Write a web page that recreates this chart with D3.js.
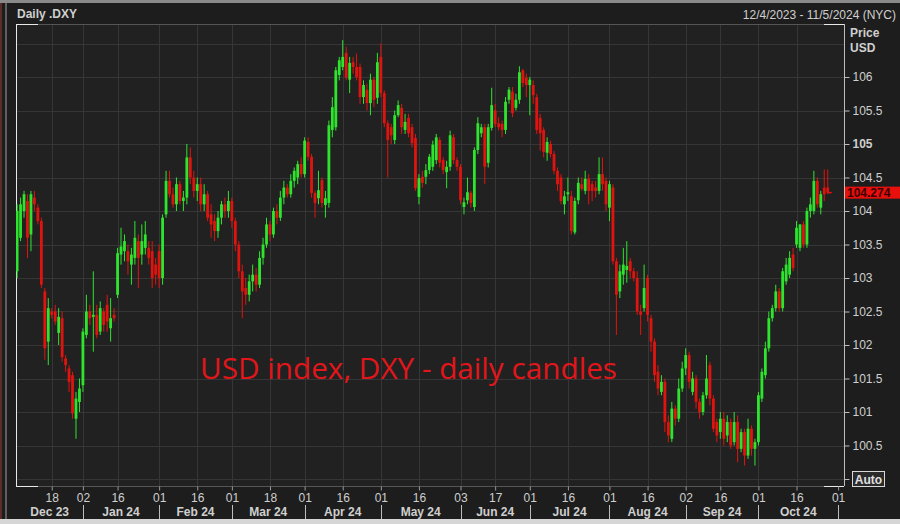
<!DOCTYPE html>
<html><head><meta charset="utf-8">
<script src="https://cdn.jsdelivr.net/npm/d3@7"></script>
<style>body{margin:0;background:#1d1d1d;overflow:hidden} svg{display:block}</style>
</head><body><svg id="c" width="900" height="524"></svg>
<script>
// ---- DATA ----
const title = "Daily .DXY";
const rangeText = "12/4/2023 - 11/5/2024 (NYC)";
const chartNote = "USD index, DXY - daily candles";
const lastPriceLabel = "104.274";
// daily candles [open, high, low, close], trading-day index 0 = 4 Dec 2023
const ohlc = [
[103.10,104.10,103.00,104.00],[103.60,104.20,103.55,104.10],[104.00,104.30,103.90,104.25],[104.15,104.25,103.30,103.60],
[103.65,104.30,103.40,104.25],[104.20,104.30,104.00,104.10],[104.05,104.10,103.80,103.85],[103.85,103.90,102.85,102.90],
[102.80,102.85,101.78,101.95],[102.05,102.70,101.70,102.55],[102.50,102.55,102.40,102.45],[102.50,102.60,102.30,102.35],
[102.18,102.55,102.00,102.42],[102.40,102.50,101.75,101.82],[101.80,101.85,101.60,101.70],[101.65,101.70,101.30,101.45],
[101.55,101.60,100.90,100.98],[100.90,101.30,100.60,101.20],[101.15,101.50,101.00,101.35],[101.40,102.25,101.30,102.20],
[102.15,102.75,102.10,102.50],[102.50,102.60,102.30,102.40],[102.42,103.10,101.90,102.45],[102.45,102.60,102.10,102.15],
[102.20,102.65,102.15,102.55],[102.50,102.55,102.20,102.30],[102.60,102.75,102.20,102.35],[102.25,102.70,102.05,102.40],
[102.45,102.55,102.35,102.40],[102.75,103.45,102.70,103.37],[103.35,103.75,103.20,103.47],[103.40,103.65,103.25,103.55],
[103.40,103.50,103.05,103.25],[103.20,103.45,102.90,103.35],[103.30,103.85,103.20,103.60],[103.55,103.65,102.85,103.30],
[103.35,103.80,103.20,103.55],[103.45,103.85,103.35,103.65],[103.45,103.55,103.20,103.30],[103.40,103.55,102.85,103.00],
[103.20,103.30,102.90,103.05],[103.40,103.50,102.85,103.00],[103.00,103.95,102.90,103.90],[103.95,104.60,103.90,104.45],
[104.45,104.60,104.20,104.25],[104.25,104.35,104.05,104.10],[104.10,104.50,104.00,104.40],[104.40,104.45,104.10,104.15],
[104.15,104.30,104.00,104.20],[104.20,105.00,104.10,104.80],[104.80,104.95,104.40,104.50],[104.50,104.60,104.20,104.30],
[104.30,104.50,104.15,104.40],[104.40,104.50,104.00,104.10],[104.10,104.40,104.00,104.25],[104.25,104.30,103.85,103.90],
[103.95,104.10,103.60,103.80],[103.85,103.95,103.55,103.70],[103.70,104.00,103.60,103.90],[103.90,104.15,103.80,104.10],
[104.10,104.20,103.90,104.00],[104.00,104.30,103.90,104.15],[104.15,104.20,103.75,103.85],[103.85,103.90,103.40,103.50],
[103.50,103.55,103.00,103.10],[103.10,103.20,102.40,102.80],[102.85,103.00,102.60,102.75],[102.75,103.05,102.65,102.95],
[102.95,103.20,102.80,103.05],[103.05,103.15,102.80,102.90],[102.90,103.40,102.85,103.30],[103.30,103.60,103.20,103.50],
[103.50,103.90,103.45,103.80],[103.80,103.85,103.55,103.65],[103.65,104.05,103.60,104.00],[104.00,104.10,103.80,103.90],
[103.90,104.30,103.85,104.20],[104.20,104.45,104.10,104.35],[104.35,104.40,104.20,104.25],[104.25,104.55,104.20,104.45],
[104.45,104.65,104.35,104.60],[104.50,104.75,104.40,104.70],[104.70,104.80,104.50,104.55],[104.55,105.10,104.50,105.05],
[105.03,105.10,104.75,104.81],[104.81,104.85,104.20,104.27],[104.27,104.30,103.90,104.12],[104.19,104.60,104.10,104.31],
[104.46,104.50,104.05,104.12],[104.09,104.30,103.90,104.19],[104.12,105.35,104.05,105.28],[105.21,105.70,105.10,105.55],
[105.25,106.15,105.20,106.10],[106.03,106.30,105.95,106.25],[106.15,106.55,106.10,106.30],[106.36,106.45,105.95,105.99],
[105.96,106.30,105.76,106.21],[106.22,106.30,106.05,106.15],[106.15,106.35,105.95,106.00],[106.15,106.20,105.60,105.70],
[105.70,105.95,105.60,105.88],[105.81,105.90,105.50,105.61],[105.61,106.05,105.43,105.96],[105.96,106.00,105.55,105.66],
[105.69,106.36,105.60,106.22],[106.30,106.50,105.70,105.76],[105.76,105.80,105.25,105.31],[105.31,105.35,104.50,105.06],
[105.25,105.30,105.00,105.13],[105.06,105.50,105.00,105.43],[105.43,105.65,105.40,105.58],[105.54,105.60,105.15,105.25],
[105.21,105.45,105.15,105.33],[105.39,105.45,105.10,105.16],[105.25,105.30,104.95,105.01],[105.09,105.15,104.30,104.34],
[104.21,104.55,104.10,104.49],[104.51,104.60,104.35,104.42],[104.51,104.70,104.40,104.61],[104.61,104.85,104.55,104.81],
[104.66,105.05,104.60,104.99],[104.76,105.15,104.70,105.10],[105.06,105.10,104.65,104.72],[104.76,104.80,104.55,104.61],
[104.58,104.75,104.34,104.66],[104.66,105.20,104.60,105.13],[105.10,105.15,104.70,104.76],[104.76,104.80,104.60,104.66],
[104.66,104.70,104.10,104.16],[104.06,104.20,103.95,104.13],[104.16,104.50,104.10,104.28],[104.27,104.30,104.05,104.12],
[104.06,104.95,104.00,104.91],[104.91,105.40,104.85,105.31],[105.16,105.30,105.10,105.25],[105.25,105.30,104.40,104.66],
[104.72,105.30,104.65,105.25],[105.24,105.84,105.20,105.58],[105.50,105.60,105.25,105.30],[105.31,105.40,105.20,105.25],
[105.30,105.35,105.10,105.21],[105.21,105.70,105.15,105.63],[105.66,105.85,105.60,105.81],[105.78,105.85,105.40,105.46],
[105.54,105.75,105.50,105.66],[105.66,106.16,105.60,106.07],[106.10,106.12,105.85,105.91],[105.99,106.05,105.70,105.88],
[105.88,106.00,105.43,105.96],[105.88,105.95,105.60,105.73],[105.70,105.75,105.15,105.21],[105.39,105.45,104.90,105.16],
[105.21,105.25,104.80,104.88],[104.87,105.10,104.75,105.03],[105.00,105.05,104.80,104.85],[104.85,104.90,104.55,104.60],
[104.60,104.65,104.30,104.40],[104.50,104.55,104.10,104.15],[104.10,104.30,103.95,104.22],[104.25,104.50,104.15,104.28],
[104.22,104.30,103.65,103.70],[103.68,104.20,103.65,104.15],[104.16,104.50,104.10,104.42],[104.40,104.50,104.30,104.33],
[104.30,104.60,104.25,104.48],[104.48,104.55,104.10,104.30],[104.40,104.45,104.15,104.30],[104.35,104.45,104.20,104.30],
[104.30,104.80,104.25,104.55],[104.55,104.80,104.30,104.40],[104.45,104.50,104.00,104.10],[104.05,104.45,103.85,104.40],
[104.35,104.40,103.20,103.25],[103.25,103.30,102.15,102.75],[102.80,103.20,102.70,103.10],[103.05,103.45,102.90,103.20],
[103.12,103.55,102.93,103.18],[103.25,103.30,103.00,103.10],[103.10,103.15,102.95,103.00],[103.00,103.10,102.45,102.50],
[102.50,102.60,102.15,102.45],[102.55,103.20,102.50,102.85],[103.00,103.05,102.35,102.45],[102.40,102.45,101.90,102.05],
[102.05,102.10,101.45,101.55],[101.60,101.70,101.25,101.35],[101.30,101.55,101.25,101.45],[101.45,101.50,100.70,100.85],
[100.85,100.95,100.55,100.65],[100.60,101.15,100.55,101.05],[101.05,101.10,100.80,100.90],[100.90,101.50,100.85,101.35],
[101.35,101.75,101.30,101.65],[101.65,101.95,101.55,101.85],[101.85,101.90,101.35,101.45],[101.30,101.60,101.25,101.50],
[101.50,101.55,101.05,101.15],[101.15,101.20,100.90,101.00],[101.00,101.30,100.95,101.25],[101.25,101.85,101.20,101.50],
[101.70,101.75,101.10,101.20],[101.20,101.25,100.70,100.75],[100.85,100.90,100.55,100.65],[100.70,101.00,100.60,100.90],
[100.90,101.00,100.50,100.60],[100.65,100.95,100.55,100.85],[100.85,100.90,100.45,100.50],[100.55,101.00,100.50,100.85],
[100.85,100.95,100.25,100.45],[100.45,100.75,100.40,100.70],[100.70,100.75,100.20,100.35],[100.35,100.90,100.30,100.75],
[100.75,100.80,100.35,100.45],[100.45,100.60,100.20,100.55],[100.55,101.30,100.50,101.25],[101.20,101.65,101.15,101.60],
[101.55,102.05,101.50,101.95],[101.95,102.50,101.90,102.40],[102.40,102.60,102.35,102.55],[102.55,102.90,102.50,102.80],
[102.80,102.85,102.50,102.55],[102.55,103.15,102.50,103.10],[102.95,103.30,102.90,103.20],[103.05,103.40,103.00,103.30],
[103.35,103.45,103.10,103.15],[103.50,103.85,103.45,103.75],[103.45,103.80,103.40,103.80],[103.80,103.85,103.45,103.50],
[103.50,104.05,103.45,104.00],[104.00,104.20,103.90,104.10],[104.00,104.60,103.95,104.45],[104.45,104.50,104.05,104.10],
[104.05,104.30,103.95,104.25],[104.35,104.62,104.15,104.25],[104.35,104.62,104.25,104.274]
];
const priceTicks = [100,100.5,101,101.5,102,102.5,103,103.5,104,104.5,105,105.5,106];
const boldPrice = [105];
const tickIndex = [10,19,29,41,52,62,73,83,94,105,116,128,138,148,159,171,182,193,203,214,225,237];
const tickLabels = ["18","02","16","01","16","01","18","01","16","01","16","03","17","01","16","01","16","02","16","01","16","01"];
const monthStart = [-0.2,19,41,62,83,105,128,148,171,193,214,237];
const monthLabels = ["Dec 23","Jan 24","Feb 24","Mar 24","Apr 24","May 24","Jun 24","Jul 24","Aug 24","Sep 24","Oct 24"];

// ---- LAYOUT ----
const svg = d3.select("#c");
const L = 16, R = 844, T = 24, B = 486;
const x = d3.scaleLinear().domain([0, 237]).range([17.1, 838.1]);
const y = d3.scaleLinear().domain([100, 106]).range([479, 77]);
const UP = "#2ee52e", DN = "#e0140f", TXT = "#cfcfcf";
const FONT = "'Liberation Sans', Arial, sans-serif";

svg.append("rect").attr("width",900).attr("height",524).attr("fill","#1d1d1d");
svg.append("rect").attr("x",0).attr("y",0).attr("width",900).attr("height",3).attr("fill","#8a8a8a");
svg.append("rect").attr("x",0).attr("y",3).attr("width",2).attr("height",516).attr("fill","#5a2c2a");
svg.append("rect").attr("x",5).attr("y",3).attr("width",2).attr("height",516).attr("fill","#5e5e5e");
svg.append("rect").attr("x",L).attr("y",T).attr("width",R-L).attr("height",B-T).attr("fill","#212121");

// grid
const g = svg.append("g").attr("shape-rendering","crispEdges");
g.selectAll("line.h").data(d3.range(100,107,0.5)).join("line")
  .attr("x1",L).attr("x2",R).attr("y1",d=>Math.round(y(d))+0.5).attr("y2",d=>Math.round(y(d))+0.5)
  .attr("stroke","#363636");
g.selectAll("line.v").data(tickIndex.slice(0,-1)).join("line")
  .attr("x1",d=>Math.round(x(d))+0.5).attr("x2",d=>Math.round(x(d))+0.5).attr("y1",T).attr("y2",B)
  .attr("stroke","#363636");
// frame
g.append("line").attr("x1",L).attr("x2",R).attr("y1",T+0.5).attr("y2",T+0.5).attr("stroke","#555");
g.append("line").attr("x1",L).attr("x2",R).attr("y1",B+0.5).attr("y2",B+0.5).attr("stroke","#555");
g.append("line").attr("x1",L+0.5).attr("x2",L+0.5).attr("y1",T).attr("y2",B).attr("stroke","#e8e8e8");
[[L,T+0.5,L+22,T+0.5],[L,B+0.5,L+22,B+0.5],[R-20,T+0.5,R,T+0.5],[R-20,B+0.5,R,B+0.5]].forEach(s=>
  g.append("line").attr("x1",s[0]).attr("y1",s[1]).attr("x2",s[2]).attr("y2",s[3]).attr("stroke","#e8e8e8"));

// candles
svg.append("clipPath").attr("id","pc").append("rect").attr("x",L).attr("y",T).attr("width",R-L).attr("height",B-T);
const cg = svg.append("g").attr("clip-path","url(#pc)");
const cs = cg.selectAll("g").data(ohlc).join("g");
cs.append("line")
  .attr("x1",(d,i)=>x(i)).attr("x2",(d,i)=>x(i))
  .attr("y1",d=>y(d[1])).attr("y2",d=>y(d[2]))
  .attr("stroke",d=>d[3]>=d[0]?UP:DN).attr("stroke-width",1);
cs.append("rect")
  .attr("x",(d,i)=>x(i)-1.4).attr("width",2.8)
  .attr("y",d=>y(Math.max(d[0],d[3])))
  .attr("height",d=>Math.max(1,Math.abs(y(d[0])-y(d[3]))))
  .attr("fill",d=>d[3]>=d[0]?UP:DN);
// last close marker
const lastI = ohlc.length-1, last = ohlc[lastI];
svg.append("line").attr("x1",x(lastI)).attr("x2",x(lastI)+4).attr("y1",y(last[3])).attr("y2",y(last[3])).attr("stroke",DN).attr("stroke-width",1.5);

// right axis
const ya = svg.append("g").attr("transform",`translate(${R+0.5},0)`)
  .call(d3.axisRight(y).tickValues(priceTicks).tickSize(5).tickPadding(3).tickFormat(d=>d===100?"":String(d)));
ya.select(".domain").attr("stroke","#bdbdbd").attr("d",`M0,${T}V${B}`);
ya.selectAll(".tick line").attr("stroke","#bdbdbd");
ya.selectAll(".tick text").attr("fill",TXT).style("font-family",FONT).style("font-size","12px")
  .style("font-weight",d=>boldPrice.includes(d)?"bold":"normal");
svg.append("text").attr("x",850).attr("y",37).text("Price").attr("fill",TXT).style("font-family",FONT).style("font-size","12px").style("font-weight","bold");
svg.append("text").attr("x",850).attr("y",52).text("USD").attr("fill",TXT).style("font-family",FONT).style("font-size","12px").style("font-weight","bold");
// last price label
const ly = y(last[3]);
svg.append("rect").attr("x",R+1).attr("y",ly-6).attr("width",900-R).attr("height",12).attr("fill","#e8100c");
svg.append("text").attr("x",R+3).attr("y",ly+4.5).text(lastPriceLabel).attr("fill","#3a0000").style("font-family",FONT).style("font-size","12px").style("font-weight","bold");
// Auto box
svg.append("rect").attr("x",852.5).attr("y",y(100)-7.5).attr("width",32).attr("height",15).attr("fill","#2a2a2a").attr("stroke","#d8d8d8");
svg.append("text").attr("x",868.5).attr("y",y(100)+4.5).attr("text-anchor","middle").text("Auto").attr("fill","#e0e0e0").style("font-family",FONT).style("font-size","12px").style("font-weight","bold");

// bottom axis
const xa = svg.append("g").attr("transform",`translate(0,${B+0.5})`)
  .call(d3.axisBottom(x).tickValues(tickIndex).tickSize(4).tickPadding(3).tickFormat((d,i)=>tickLabels[i]));
xa.select(".domain").remove();
xa.selectAll(".tick line").attr("stroke","#9a9a9a");
xa.selectAll(".tick text").attr("fill",TXT).style("font-family",FONT).style("font-size","12px");
// month separators & labels
svg.selectAll("line.ms").data(monthStart.slice(1)).join("line")
  .attr("x1",d=>Math.round(x(d))+0.5).attr("x2",d=>Math.round(x(d))+0.5).attr("y1",505).attr("y2",519)
  .attr("stroke","#bdbdbd");
svg.selectAll("text.ml").data(monthLabels).join("text")
  .attr("x",(d,i)=>(Math.max(L,x(monthStart[i]))+x(monthStart[i+1]))/2).attr("y",516)
  .attr("text-anchor","middle").text(d=>d).attr("fill",TXT)
  .style("font-family",FONT).style("font-size","12px").style("font-weight","bold");

// header
svg.append("text").attr("x",17).attr("y",18).text(title).attr("fill",TXT).style("font-family",FONT).style("font-size","12px").style("font-weight","bold");
svg.append("text").attr("x",896).attr("y",19).attr("text-anchor","end").text(rangeText).attr("fill",TXT).style("font-family",FONT).style("font-size","12px");

// note
svg.append("text").attr("x",200).attr("y",379).text(chartNote).attr("fill","#e0161b")
  .attr("textLength",417).attr("lengthAdjust","spacingAndGlyphs")
  .style("font-family","'Open Sans', 'Noto Sans', sans-serif").style("font-size","29px");

// bottom strip
svg.append("rect").attr("x",0).attr("y",519).attr("width",900).attr("height",5).attr("fill","#d6d6d6");
</script></body></html>
